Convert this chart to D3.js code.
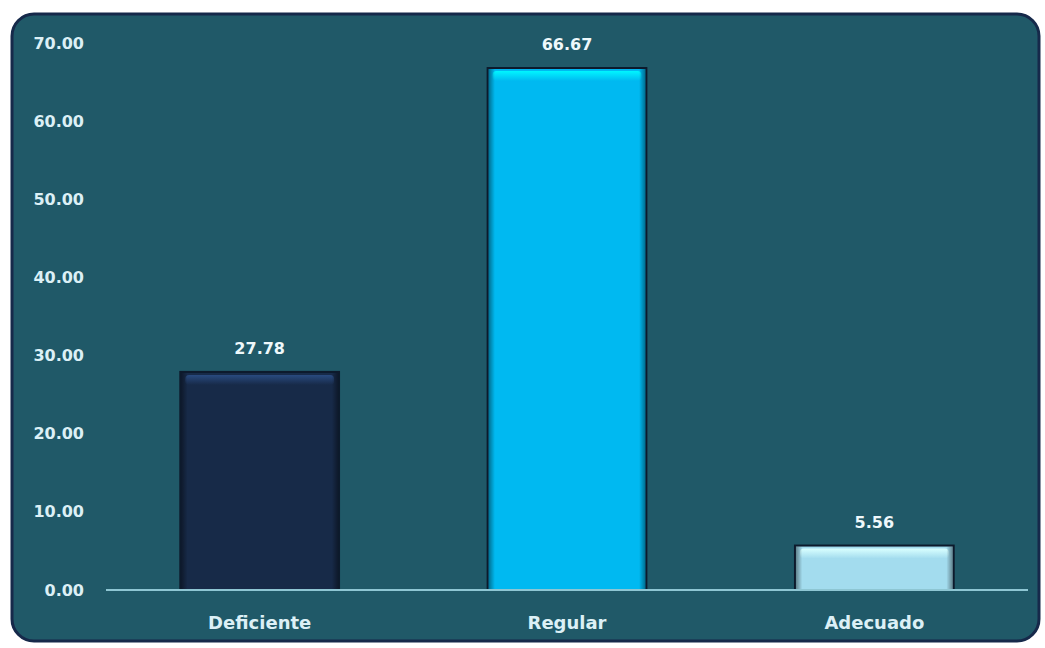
<!DOCTYPE html>
<html><head><meta charset="utf-8">
<script src="https://cdn.jsdelivr.net/npm/d3@7"></script>
<style>html,body{margin:0;padding:0;background:#fff;}svg{display:block;}</style>
</head><body>
<script>
const categories = ["Deficiente", "Regular", "Adecuado"];
const values = [27.78, 66.67, 5.56];
const valueLabels = ["27.78", "66.67", "5.56"];
const barColors = ["#172a48", "#00b9f1", "#a3dcee"];
const tickValues = [0, 10, 20, 30, 40, 50, 60, 70];

const W = 1045, H = 648;
const svg = d3.select("body").append("svg").attr("width", W).attr("height", H);
const defs = svg.append("defs");

// panel
svg.append("rect").attr("x", 12).attr("y", 14).attr("width", 1027).attr("height", 627)
  .attr("rx", 22).attr("ry", 22).attr("fill", "#205968").attr("stroke", "#16294a").attr("stroke-width", 3);

const x = d3.scaleBand().domain(categories).range([106, 1028]).paddingInner(0.49).paddingOuter(0.245);
const y = d3.scaleLinear().domain([0, 70]).range([590, 43]);

// y axis labels
const yAxis = d3.axisLeft(y).tickValues(tickValues).tickFormat(d3.format(".2f")).tickSize(0).tickPadding(0);
const ga = svg.append("g").attr("transform", "translate(84,0)").call(yAxis);
ga.select(".domain").remove();
ga.selectAll("text").attr("fill", "#dcf0f6").attr("font-family", "DejaVu Sans, Verdana, sans-serif")
  .attr("font-weight", "bold").attr("font-size", 16);

// bevel gradients
categories.forEach((c, i) => {
  const col = d3.color(barColors[i]);
  const gv = defs.append("linearGradient").attr("id", "gv" + i).attr("x1", 0).attr("y1", 0).attr("x2", 0).attr("y2", 1);
  gv.append("stop").attr("offset", "0").attr("stop-color", col.brighter(i === 0 ? 1.6 : 0.8));
  gv.append("stop").attr("offset", "1").attr("stop-color", col);
  const gh = defs.append("linearGradient").attr("id", "gh" + i).attr("x1", 0).attr("y1", 0).attr("x2", 1).attr("y2", 0);
  gh.append("stop").attr("offset", "0").attr("stop-color", "#000").attr("stop-opacity", 0.4);
  gh.append("stop").attr("offset", "0.04").attr("stop-color", "#000").attr("stop-opacity", 0);
  gh.append("stop").attr("offset", "0.96").attr("stop-color", "#000").attr("stop-opacity", 0);
  gh.append("stop").attr("offset", "1").attr("stop-color", "#000").attr("stop-opacity", 0.4);
});

const bars = svg.append("g");
categories.forEach((c, i) => {
  const bx = x(c), bw = x.bandwidth(), by = y(values[i]), bh = y(0) - y(values[i]);
  bars.append("rect").attr("x", bx - 2).attr("y", by - 2).attr("width", bw + 4).attr("height", bh + 2)
    .attr("fill", "#0d1a2c");
  bars.append("rect").attr("x", bx).attr("y", by).attr("width", bw).attr("height", bh).attr("fill", barColors[i]);
  bars.append("rect").attr("x", bx + 4).attr("y", by + 2).attr("width", bw - 8).attr("height", Math.min(10, bh))
    .attr("rx", 4).attr("fill", "url(#gv" + i + ")");
  bars.append("rect").attr("x", bx).attr("y", by).attr("width", bw).attr("height", bh).attr("fill", "url(#gh" + i + ")");
  svg.append("text").attr("x", bx + bw / 2).attr("y", by - 19).attr("text-anchor", "middle")
    .attr("fill", "#eef8fb").attr("font-family", "DejaVu Sans, Verdana, sans-serif").attr("font-weight", "bold")
    .attr("font-size", 16).text(valueLabels[i]);
});

// x axis
svg.append("line").attr("x1", 106).attr("x2", 1028).attr("y1", y(0)).attr("y2", y(0))
  .attr("stroke", "#8ec6d3").attr("stroke-width", 2);
const xAxis = d3.axisBottom(x).tickSize(0).tickPadding(0);
const gx = svg.append("g").attr("transform", "translate(0,629)").call(xAxis);
gx.select(".domain").remove();
gx.selectAll("text").attr("dy", 0).attr("fill", "#dcf0f6").attr("font-family", "DejaVu Sans, Verdana, sans-serif")
  .attr("font-weight", "bold").attr("font-size", 18);
</script>
</body></html>
